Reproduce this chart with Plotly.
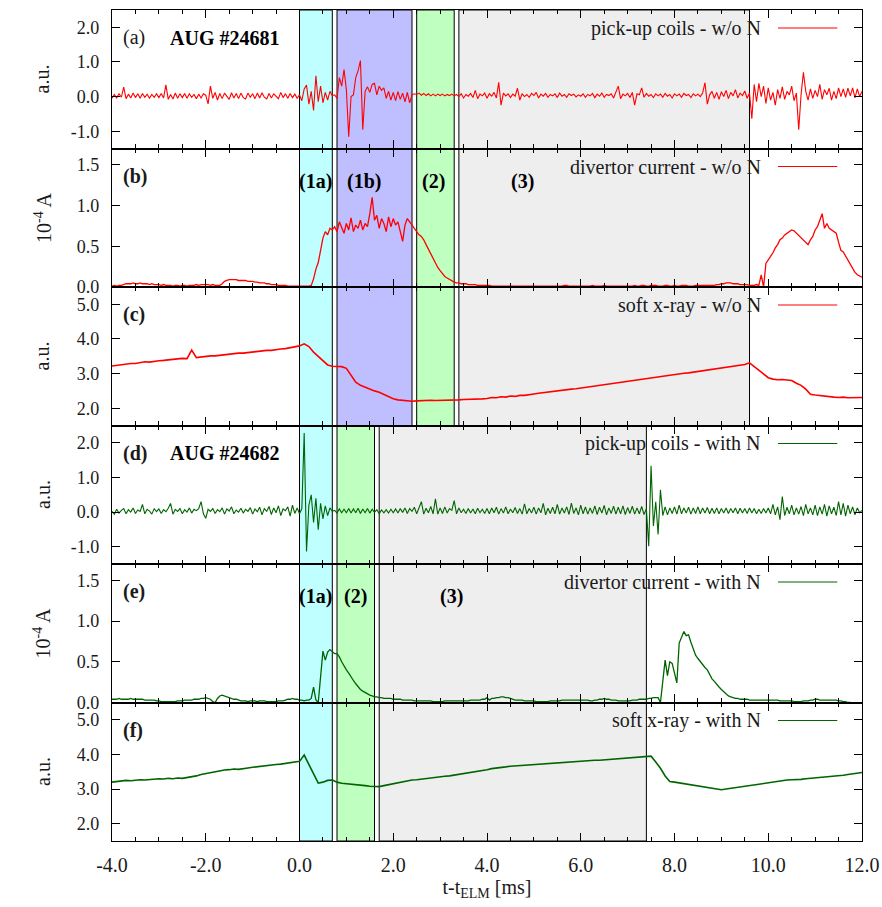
import numpy as np
import plotly.graph_objects as go
from plotly.subplots import make_subplots

# time bases [ms]
t_fast = np.round(np.arange(321) * 0.05 - 4.0, 2)   # pick-up coils, divertor current
t_slow = np.round(np.arange(161) * 0.1 - 4.0, 1)    # soft x-ray

# ---------------- AUG #24681 (w/o N) ----------------
pickup_woN = [
    -0.05, 0.06, -0.04, 0.08, -0.02, 0.27, -0.06, 0.07, -0.04, 0.10, -0.03, 0.08, -0.05, 0.09, -0.02, 0.07, -0.05, 0.06, -0.02, 0.08,
    -0.03, 0.09, -0.04, 0.34, -0.08, 0.06, -0.07, 0.10, -0.05, 0.08, -0.03, 0.09, -0.05, 0.08, -0.02, 0.06, -0.06, 0.07, -0.04, 0.08,
    0.04, -0.21, 0.30, -0.05, 0.12, -0.10, 0.09, -0.06, 0.10, 0.00, -0.08, 0.11, -0.04, 0.09, -0.06, 0.10, -0.03, -0.07, 0.10, -0.02,
    0.08, -0.06, 0.10, -0.04, 0.11, -0.02, -0.07, 0.09, -0.04, 0.08, 0.01, -0.06, 0.12, -0.03, 0.08, -0.05, 0.09, -0.03, 0.07, -0.05,
    0.05, -0.12, 0.22, 0.33, -0.22, 0.15, -0.40, 0.60, -0.15, 0.30, -0.18, 0.12, -0.10, 0.15, 0.02, 0.05, -0.05, 0.55, 0.30, 0.78,
    0.20, -1.16, 0.00, 0.05, 0.55, 0.75, 1.04, -0.96, 0.15, 0.28, 0.12, 0.35, 0.38, 0.05, 0.30, 0.18, 0.25, -0.05, 0.15, -0.10,
    0.12, -0.12, 0.14, -0.08, 0.10, -0.15, 0.12, -0.18, 0.05, 0.08, 0.06, 0.10, 0.04, 0.09, 0.03, 0.08, 0.02, 0.07, 0.02, 0.07,
    0.03, 0.07, 0.02, 0.06, 0.03, 0.07, 0.02, 0.06, 0.00, 0.08, -0.04, 0.06, 0.01, 0.09, -0.03, 0.18, -0.06, 0.07, 0.02, 0.10,
    -0.05, 0.08, 0.01, 0.12, -0.04, 0.41, -0.25, 0.10, 0.02, 0.08, -0.03, 0.07, 0.01, 0.24, -0.10, 0.08, 0.00, 0.06, -0.02, 0.09,
    0.03, 0.12, -0.04, 0.07, 0.01, 0.09, -0.02, 0.06, 0.02, 0.08, -0.03, 0.10, 0.01, 0.06, -0.02, 0.08, 0.03, 0.07, -0.01, 0.05,
    0.01, 0.08, -0.02, 0.06, 0.02, 0.09, -0.03, 0.07, 0.01, 0.10, -0.02, 0.06, 0.03, 0.08, -0.04, 0.11, 0.30, -0.06, 0.07, 0.02,
    0.09, -0.03, 0.12, -0.25, 0.08, 0.05, 0.25, -0.02, 0.09, 0.01, 0.06, -0.03, 0.08, 0.02, 0.07, -0.02, 0.09, 0.01, 0.06, -0.04,
    0.08, 0.02, 0.07, -0.02, 0.09, 0.03, 0.06, -0.03, 0.08, 0.02, 0.07, 0.00, 0.10, 0.40, -0.22, 0.05, 0.15, -0.05, 0.12, -0.08,
    0.14, 0.00, 0.18, -0.06, 0.12, 0.02, 0.20, -0.04, 0.10, 0.03, 0.16, -0.05, 0.10, -0.64, 0.35, -0.15, 0.38, 0.00, 0.30, -0.20,
    0.25, -0.10, 0.12, -0.25, 0.20, -0.05, 0.28, -0.08, 0.15, 0.05, 0.30, -0.12, 0.10, -0.96, 0.05, 0.70, 0.15, -0.10, 0.22, -0.05,
    0.18, 0.00, 0.35, -0.08, 0.20, 0.05, 0.24, -0.10, 0.15, -0.06, 0.25, 0.00, 0.22, -0.02, 0.24, 0.02, 0.25, -0.04, 0.22, 0.00,
    0.15,
]

divertor_woN = [
    0.01, 0.02, 0.01, 0.02, 0.02, 0.03, 0.04, 0.04, 0.04, 0.05, 0.04, 0.04, 0.05, 0.04, 0.04, 0.04, 0.03, 0.04, 0.03, 0.03,
    0.03, 0.02, 0.03, 0.02, 0.02, 0.02, 0.01, 0.02, 0.02, 0.01, 0.02, 0.02, 0.01, 0.02, 0.02, 0.02, 0.03, 0.02, 0.03, 0.03,
    0.03, 0.03, 0.02, 0.03, 0.02, 0.02, 0.02, 0.04, 0.07, 0.08, 0.09, 0.09, 0.09, 0.09, 0.08, 0.08, 0.08, 0.08, 0.07, 0.07,
    0.07, 0.06, 0.06, 0.05, 0.05, 0.05, 0.04, 0.04, 0.03, 0.03, 0.03, 0.02, 0.02, 0.02, 0.02, 0.01, 0.01, 0.01, 0.01, 0.01,
    0.01, 0.01, 0.01, 0.01, 0.01, 0.02, 0.10, 0.22, 0.30, 0.45, 0.60, 0.68, 0.64, 0.72, 0.70, 0.74, 0.68, 0.80, 0.72, 0.66,
    0.78, 0.70, 0.85, 0.68, 0.76, 0.72, 0.82, 0.70, 0.78, 0.74, 0.90, 1.10, 0.82, 0.88, 0.72, 0.84, 0.78, 0.68, 0.86, 0.74,
    0.84, 0.76, 0.80, 0.66, 0.56, 0.76, 0.84, 0.80, 0.76, 0.72, 0.68, 0.64, 0.62, 0.58, 0.52, 0.46, 0.40, 0.34, 0.29, 0.24,
    0.20, 0.16, 0.13, 0.11, 0.09, 0.07, 0.06, 0.05, 0.05, 0.04, 0.04, 0.04, 0.03, 0.03, 0.03, 0.03, 0.02, 0.02, 0.02, 0.02,
    0.02, 0.02, 0.01, 0.01, 0.01, 0.01, 0.01, 0.01, 0.01, 0.01, 0.01, 0.01, 0.01, 0.01, 0.01, 0.01, 0.01, 0.01, 0.01, 0.01,
    0.01, 0.01, 0.01, 0.01, 0.01, 0.01, 0.01, 0.01, 0.01, 0.01, 0.01, 0.01, 0.01, 0.02, 0.02, 0.01, 0.01, 0.01, 0.01, 0.01,
    0.01, 0.01, 0.01, 0.01, 0.01, 0.02, 0.01, 0.01, 0.01, 0.01, 0.02, 0.01, 0.01, 0.01, 0.01, 0.01, 0.01, 0.01, 0.01, 0.01,
    0.01, 0.01, 0.01, 0.02, 0.01, 0.01, 0.02, 0.02, 0.01, 0.01, 0.02, 0.02, 0.02, 0.01, 0.01, 0.01, 0.02, 0.02, 0.01, 0.01,
    0.02, 0.01, 0.01, 0.02, 0.02, 0.02, 0.01, 0.01, 0.01, 0.02, 0.02, 0.02, 0.02, 0.02, 0.02, 0.02, 0.02, 0.02, 0.03, 0.03,
    0.04, 0.04, 0.05, 0.05, 0.05, 0.04, 0.04, 0.04, 0.03, 0.03, 0.03, 0.03, 0.02, 0.02, 0.02, 0.03, 0.02, 0.15, 0.00, 0.29,
    0.33, 0.38, 0.42, 0.48, 0.52, 0.58, 0.60, 0.64, 0.66, 0.68, 0.70, 0.69, 0.66, 0.64, 0.60, 0.58, 0.55, 0.52, 0.58, 0.62,
    0.70, 0.74, 0.82, 0.90, 0.72, 0.78, 0.72, 0.70, 0.68, 0.66, 0.55, 0.45, 0.43, 0.38, 0.32, 0.28, 0.23, 0.18, 0.15, 0.13,
    0.12,
]

sxr_woN = [
    3.22, 3.24, 3.25, 3.27, 3.29, 3.29, 3.31, 3.34, 3.33, 3.36,
    3.37, 3.38, 3.40, 3.40, 3.42, 3.44, 3.43, 3.68, 3.46, 3.48,
    3.49, 3.51, 3.51, 3.53, 3.55, 3.55, 3.57, 3.59, 3.59, 3.61,
    3.62, 3.64, 3.65, 3.67, 3.67, 3.70, 3.71, 3.72, 3.74, 3.76,
    3.80, 3.86, 3.78, 3.62, 3.50, 3.38, 3.25, 3.21, 3.20, 3.20,
    3.15, 2.95, 2.75, 2.66, 2.60, 2.54, 2.50, 2.46, 2.40, 2.33,
    2.27, 2.24, 2.22, 2.21, 2.20, 2.21, 2.22, 2.23, 2.23, 2.22,
    2.22, 2.23, 2.23, 2.24, 2.24, 2.25, 2.25, 2.26, 2.27, 2.27,
    2.28, 2.31, 2.30, 2.33, 2.32, 2.35, 2.34, 2.37, 2.37, 2.40,
    2.41, 2.43, 2.45, 2.47, 2.49, 2.50, 2.52, 2.53, 2.55, 2.56,
    2.58, 2.60, 2.62, 2.64, 2.66, 2.68, 2.70, 2.72, 2.74, 2.76,
    2.78, 2.80, 2.82, 2.84, 2.86, 2.88, 2.90, 2.92, 2.93, 2.95,
    2.97, 2.99, 3.01, 3.02, 3.04, 3.06, 3.08, 3.10, 3.12, 3.14,
    3.16, 3.18, 3.20, 3.22, 3.24, 3.26, 3.31, 3.20, 3.10, 2.98,
    2.88, 2.84, 2.82, 2.83, 2.82, 2.80, 2.72, 2.66, 2.55, 2.40,
    2.38, 2.36, 2.35, 2.33, 2.32, 2.31, 2.32, 2.30, 2.31, 2.30,
    2.31,
]

# ---------------- AUG #24682 (with N) ----------------
pickup_withN = [
    0.02, -0.06, 0.08, -0.03, 0.05, 0.10, -0.05, 0.07, 0.00, 0.12, -0.04, 0.06, 0.02, 0.22, -0.05, 0.08, 0.03, -0.06, 0.10, 0.01,
    0.09, -0.04, 0.07, 0.01, 0.11, 0.25, -0.06, 0.08, 0.02, 0.10, -0.05, 0.07, 0.00, 0.12, -0.03, 0.08, 0.04, 0.10, 0.30, -0.05,
    -0.18, 0.08, 0.02, 0.10, -0.04, 0.07, 0.01, 0.12, -0.06, 0.09, 0.03, 0.15, -0.05, 0.06, 0.00, 0.11, -0.03, 0.08, 0.02, 0.13,
    -0.06, 0.09, 0.01, 0.14, -0.08, 0.10, 0.02, 0.16, -0.07, 0.12, -0.02, 0.18, -0.10, 0.09, 0.04, 0.15, -0.12, 0.20, -0.04, 0.12,
    -0.05, 0.10, 2.28, -1.14, 0.20, 0.50, -0.30, 0.40, -0.51, 0.25, -0.20, 0.18, -0.10, 0.12, 0.02, 0.05, -0.03, 0.09, -0.02, 0.08,
    -0.02, 0.10, -0.03, 0.09, -0.02, 0.11, -0.04, 0.09, -0.02, 0.10, -0.03, 0.08, -0.01, 0.07, -0.05, 0.06, -0.02, 0.07, -0.03, 0.08,
    -0.02, 0.09, -0.03, 0.10, -0.01, 0.12, -0.04, 0.10, 0.02, 0.14, -0.05, 0.12, 0.30, -0.06, 0.11, -0.02, 0.16, -0.05, 0.38, -0.06,
    0.12, -0.04, 0.15, -0.03, 0.10, 0.05, 0.33, -0.05, 0.12, -0.02, 0.08, -0.04, 0.10, -0.03, 0.09, -0.05, 0.11, -0.02, 0.08, -0.04,
    0.10, -0.05, 0.12, -0.02, 0.14, -0.06, 0.10, -0.03, 0.15, -0.05, 0.09, -0.02, 0.13, -0.04, 0.10, -0.06, 0.24, -0.05, 0.10, -0.03,
    0.14, -0.06, 0.12, -0.02, 0.25, -0.08, 0.11, -0.04, 0.14, -0.05, 0.22, -0.06, 0.12, -0.03, 0.15, -0.07, 0.26, -0.04, 0.12, -0.08,
    0.20, -0.05, 0.15, -0.06, 0.12, -0.04, 0.18, -0.07, 0.14, -0.03, 0.19, -0.08, 0.12, -0.04, 0.17, -0.06, 0.14, -0.05, 0.18, -0.07,
    0.13, -0.04, 0.17, -0.06, 0.12, -0.05, 0.16, -0.07, 0.10, -0.99, 1.34, -0.40, 0.30, -0.65, 0.64, -0.10, 0.15, -0.08, 0.12, -0.04,
    0.15, -0.06, 0.20, -0.05, 0.12, -0.03, 0.14, -0.06, 0.12, -0.04, 0.15, -0.05, 0.12, -0.03, 0.13, -0.05, 0.11, -0.04, 0.12, -0.05,
    0.10, -0.03, 0.12, -0.04, 0.10, -0.02, 0.12, -0.05, 0.11, -0.03, 0.10, -0.04, 0.12, -0.03, 0.10, -0.05, 0.08, -0.04, 0.10, -0.03,
    0.12, -0.05, 0.22, -0.08, 0.15, -0.22, 0.45, -0.10, 0.14, -0.05, 0.20, -0.08, 0.12, -0.06, 0.16, -0.10, 0.22, -0.05, 0.12, -0.08,
    0.20, -0.10, 0.15, -0.06, 0.22, -0.12, 0.18, -0.05, 0.14, -0.10, 0.30, -0.08, 0.25, -0.12, 0.20, -0.05, 0.15, -0.08, 0.12, -0.02,
    0.05,
]

divertor_withN = [
    0.04, 0.04, 0.04, 0.05, 0.04, 0.04, 0.04, 0.04, 0.05, 0.04, 0.04, 0.04, 0.04, 0.04, 0.03, 0.03, 0.03, 0.03, 0.03, 0.02,
    0.02, 0.01, 0.01, 0.01, 0.01, 0.01, 0.01, 0.01, 0.02, 0.02, 0.02, 0.03, 0.03, 0.03, 0.03, 0.04, 0.04, 0.04, 0.05, 0.05,
    0.06, 0.05, 0.04, 0.01, 0.00, 0.05, 0.08, 0.09, 0.08, 0.07, 0.06, 0.05, 0.04, 0.04, 0.03, 0.02, 0.02, 0.02, 0.01, 0.02,
    0.02, 0.02, 0.01, 0.02, 0.02, 0.02, 0.01, 0.01, 0.01, 0.01, 0.01, 0.02, 0.02, 0.02, 0.03, 0.04, 0.04, 0.05, 0.04, 0.04,
    0.03, 0.03, 0.02, 0.03, 0.03, 0.05, 0.19, 0.03, 0.00, 0.36, 0.63, 0.52, 0.62, 0.65, 0.62, 0.60, 0.60, 0.56, 0.50, 0.44,
    0.40, 0.36, 0.31, 0.27, 0.23, 0.19, 0.16, 0.14, 0.12, 0.10, 0.09, 0.08, 0.07, 0.07, 0.06, 0.06, 0.05, 0.05, 0.05, 0.05,
    0.04, 0.04, 0.04, 0.04, 0.03, 0.03, 0.03, 0.03, 0.03, 0.02, 0.02, 0.02, 0.02, 0.02, 0.02, 0.02, 0.02, 0.01, 0.01, 0.01,
    0.01, 0.01, 0.02, 0.02, 0.02, 0.02, 0.02, 0.02, 0.02, 0.02, 0.02, 0.02, 0.02, 0.03, 0.03, 0.03, 0.03, 0.03, 0.04, 0.04,
    0.06, 0.03, 0.05, 0.05, 0.06, 0.06, 0.07, 0.07, 0.06, 0.06, 0.05, 0.04, 0.03, 0.03, 0.03, 0.03, 0.02, 0.02, 0.02, 0.02,
    0.02, 0.01, 0.01, 0.01, 0.01, 0.01, 0.01, 0.02, 0.02, 0.02, 0.02, 0.02, 0.03, 0.03, 0.03, 0.03, 0.03, 0.03, 0.03, 0.03,
    0.03, 0.03, 0.03, 0.03, 0.02, 0.02, 0.03, 0.03, 0.04, 0.04, 0.05, 0.04, 0.04, 0.03, 0.03, 0.03, 0.02, 0.02, 0.02, 0.02,
    0.02, 0.02, 0.03, 0.03, 0.03, 0.04, 0.04, 0.04, 0.04, 0.05, 0.05, 0.06, 0.06, 0.06, 0.00, 0.30, 0.52, 0.33, 0.50, 0.48,
    0.35, 0.24, 0.73, 0.80, 0.87, 0.82, 0.83, 0.74, 0.66, 0.58, 0.54, 0.50, 0.46, 0.43, 0.40, 0.34, 0.29, 0.26, 0.22, 0.19,
    0.16, 0.13, 0.10, 0.08, 0.07, 0.06, 0.05, 0.05, 0.04, 0.04, 0.04, 0.04, 0.03, 0.03, 0.03, 0.03, 0.03, 0.03, 0.03, 0.03,
    0.03, 0.03, 0.03, 0.03, 0.03, 0.02, 0.02, 0.02, 0.02, 0.02, 0.02, 0.01, 0.01, 0.01, 0.01, 0.02, 0.02, 0.02, 0.03, 0.03,
    0.04, 0.04, 0.03, 0.03, 0.03, 0.03, 0.03, 0.03, 0.03, 0.03, 0.02, 0.02, 0.01, 0.01, 0.00, 0.00, None, None, None, None,
    None,
]

sxr_withN = [
    3.20, 3.22, 3.23, 3.25, 3.24, 3.26, 3.27, 3.26, 3.28, 3.29,
    3.30, 3.29, 3.31, 3.30, 3.32, 3.31, 3.33, 3.35, 3.38, 3.42,
    3.45, 3.47, 3.50, 3.52, 3.55, 3.56, 3.58, 3.57, 3.60, 3.61,
    3.63, 3.65, 3.66, 3.68, 3.69, 3.71, 3.72, 3.74, 3.76, 3.77,
    3.80, 3.98, 3.70, 3.45, 3.17, 3.20, 3.25, 3.26, 3.20, 3.17,
    3.16, 3.15, 3.14, 3.12, 3.10, 3.08, 3.07, 3.07, 3.10, 3.13,
    3.16, 3.19, 3.22, 3.24, 3.26, 3.27, 3.29, 3.31, 3.32, 3.34,
    3.35, 3.37, 3.38, 3.40, 3.42, 3.44, 3.46, 3.48, 3.50, 3.53,
    3.56, 3.59, 3.60, 3.62, 3.64, 3.66, 3.67, 3.69, 3.70, 3.71,
    3.72, 3.73, 3.74, 3.75, 3.76, 3.76, 3.77, 3.78, 3.78, 3.79,
    3.80, 3.81, 3.82, 3.83, 3.83, 3.84, 3.85, 3.86, 3.87, 3.88,
    3.89, 3.91, 3.92, 3.94, 3.95, 3.95, 3.78, 3.60, 3.38, 3.22,
    3.20, 3.18, 3.16, 3.14, 3.12, 3.10, 3.08, 3.06, 3.04, 3.01,
    2.98, 3.00, 3.02, 3.04, 3.06, 3.10, 3.12, 3.14, 3.16, 3.18,
    3.20, 3.22, 3.23, 3.24, 3.26, 3.27, 3.27, 3.28, 3.30, 3.31,
    3.32, 3.33, 3.34, 3.35, 3.37, 3.38, 3.40, 3.42, 3.44, 3.46,
    3.48,
]

# tick labels (plain hyphen for negatives)
x_tickvals = [-4, -2, 0, 2, 4, 6, 8, 10, 12]
x_ticktext = ["-4.0", "-2.0", "0.0", "2.0", "4.0", "6.0", "8.0", "10.0", "12.0"]
pickup_tickvals = [-1, 0, 1, 2]
pickup_ticktext = ["-1.0", "0.0", "1.0", "2.0"]
current_tickvals = [0, 0.5, 1.0, 1.5]
current_ticktext = ["0.0", "0.5", "1.0", "1.5"]
sxr_tickvals = [2, 3, 4, 5]
sxr_ticktext = ["2.0", "3.0", "4.0", "5.0"]

# ELM phases [ms]: (start, end, fill)
phases_woN = [(0.0, 0.7, "#bfffff"), (0.8, 2.4, "#bfbfff"), (2.5, 3.3, "#bfffbf"), (3.4, 9.6, "#eeeeee")]
phases_withN = [(0.0, 0.7, "#bfffff"), (0.8, 1.6, "#bfffbf"), (1.7, 7.4, "#eeeeee")]
phase_labels_woN = [(0.34, "(1a)"), (1.37, "(1b)"), (2.85, "(2)"), (4.75, "(3)")]
phase_labels_withN = [(0.34, "(1a)"), (1.2, "(2)"), (3.25, "(3)")]

RED = "#ff0000"
GREEN = "#006400"
FONT = "Liberation Serif, Times New Roman, serif"
TXT = "#1a1a1a"

panels = [
    dict(t=t_fast, y=pickup_woN, color=RED, w=1.1, name="pick-up coils - w/o N", tag="(a)", bold=False,
         shot="AUG #24681", yr=[-1.5, 2.5], tv=pickup_tickvals, tt=pickup_ticktext, ytitle="a.u.",
         phases=phases_woN, plabels=None),
    dict(t=t_fast, y=divertor_woN, color=RED, w=1.3, name="divertor current - w/o N", tag="(b)", bold=True,
         shot=None, yr=[0, 1.7], tv=current_tickvals, tt=current_ticktext, ytitle="10<sup>-4</sup> A",
         phases=phases_woN, plabels=phase_labels_woN),
    dict(t=t_slow, y=sxr_woN, color=RED, w=1.6, name="soft x-ray - w/o N", tag="(c)", bold=True,
         shot=None, yr=[1.5, 5.5], tv=sxr_tickvals, tt=sxr_ticktext, ytitle="a.u.",
         phases=phases_woN, plabels=None),
    dict(t=t_fast, y=pickup_withN, color=GREEN, w=1.1, name="pick-up coils - with N", tag="(d)", bold=True,
         shot="AUG #24682", yr=[-1.5, 2.5], tv=pickup_tickvals, tt=pickup_ticktext, ytitle="a.u.",
         phases=phases_withN, plabels=None),
    dict(t=t_fast, y=divertor_withN, color=GREEN, w=1.3, name="divertor current - with N", tag="(e)", bold=True,
         shot=None, yr=[0, 1.7], tv=current_tickvals, tt=current_ticktext, ytitle="10<sup>-4</sup> A",
         phases=phases_withN, plabels=phase_labels_withN),
    dict(t=t_slow, y=sxr_withN, color=GREEN, w=1.6, name="soft x-ray - with N", tag="(f)", bold=True,
         shot=None, yr=[1.5, 5.5], tv=sxr_tickvals, tt=sxr_ticktext, ytitle="a.u.",
         phases=phases_withN, plabels=None),
]

fig = make_subplots(rows=6, cols=1, shared_xaxes=True, vertical_spacing=0)

shapes, annotations = [], []
for i, p in enumerate(panels, start=1):
    fig.add_trace(go.Scatter(x=p["t"], y=p["y"], mode="lines", line=dict(color=p["color"], width=p["w"]),
                             showlegend=False, connectgaps=False), row=i, col=1)
    xref = "x" if i == 1 else f"x{i}"
    yref = "y" if i == 1 else f"y{i}"
    for (a, b, c) in p["phases"]:
        shapes.append(dict(type="rect", xref=xref, yref=f"{yref} domain", x0=a, x1=b, y0=0, y1=1,
                           fillcolor=c, line=dict(color="black", width=1), layer="below"))
    # key: text followed by a line sample
    annotations.append(dict(xref="paper", yref=f"{yref} domain", x=0.868, y=0.87, xanchor="right",
                            yanchor="middle", text=p["name"], showarrow=False,
                            font=dict(family=FONT, size=20, color=TXT)))
    shapes.append(dict(type="line", xref="paper", yref=f"{yref} domain", x0=0.888, x1=0.967, y0=0.87, y1=0.87,
                       line=dict(color=p["color"], width=1.2)))
    tag = f"<b>{p['tag']}</b>" if p["bold"] else p["tag"]
    annotations.append(dict(xref="paper", yref=f"{yref} domain", x=0.012, y=0.80, xanchor="left",
                            yanchor="middle", text=tag, showarrow=False,
                            font=dict(family=FONT, size=20, color=TXT)))
    if p["shot"]:
        annotations.append(dict(xref="paper", yref=f"{yref} domain", x=0.075, y=0.80, xanchor="left",
                                yanchor="middle", text=f"<b>{p['shot']}</b>", showarrow=False,
                                font=dict(family=FONT, size=20, color="black")))
    if p["plabels"]:
        for (xc, txt) in p["plabels"]:
            annotations.append(dict(xref=xref, yref=f"{yref} domain", x=xc, y=0.765, xanchor="center",
                                    yanchor="middle", text=f"<b>{txt}</b>", showarrow=False,
                                    font=dict(family=FONT, size=20, color="black")))
    annotations.append(dict(xref="paper", yref=f"{yref} domain", x=-0.093, y=0.5, xanchor="center",
                            yanchor="middle", text=p["ytitle"], textangle=-90, showarrow=False,
                            font=dict(family=FONT, size=20, color=TXT)))

    fig.update_yaxes(row=i, col=1, range=p["yr"], tickmode="array", tickvals=p["tv"], ticktext=p["tt"],
                     ticks="inside", ticklen=8, tickwidth=1, tickcolor="black", mirror="allticks",
                     showline=True, linecolor="black", linewidth=1.3, showgrid=False, zeroline=False,
                     automargin=False, ticklabelstandoff=8,
                     tickfont=dict(family=FONT, size=18, color=TXT))
    fig.update_xaxes(row=i, col=1, range=[-4, 12], tickmode="array", tickvals=x_tickvals, ticktext=x_ticktext,
                     ticks="inside", ticklen=8, tickwidth=1, tickcolor="black", mirror="allticks",
                     showline=True, linecolor="black", linewidth=1.3, showgrid=False, zeroline=False,
                     automargin=False,
                     minor=dict(dtick=0.5, tick0=0, ticks="inside", ticklen=4, tickwidth=1, tickcolor="black",
                                showgrid=False),
                     tickfont=dict(family=FONT, size=20, color=TXT))

fig.update_xaxes(row=6, col=1, showticklabels=True, ticklabelstandoff=6,
                 title=dict(text="t-t<sub>ELM</sub> [ms]", standoff=4, font=dict(family=FONT, size=20, color=TXT)))

fig.update_layout(width=882, height=907, margin=dict(l=112, r=20, t=10, b=66),
                  plot_bgcolor="white", paper_bgcolor="white", font=dict(family=FONT, size=20, color=TXT),
                  shapes=shapes, annotations=annotations, showlegend=False)

fig.write_html("out.html")
